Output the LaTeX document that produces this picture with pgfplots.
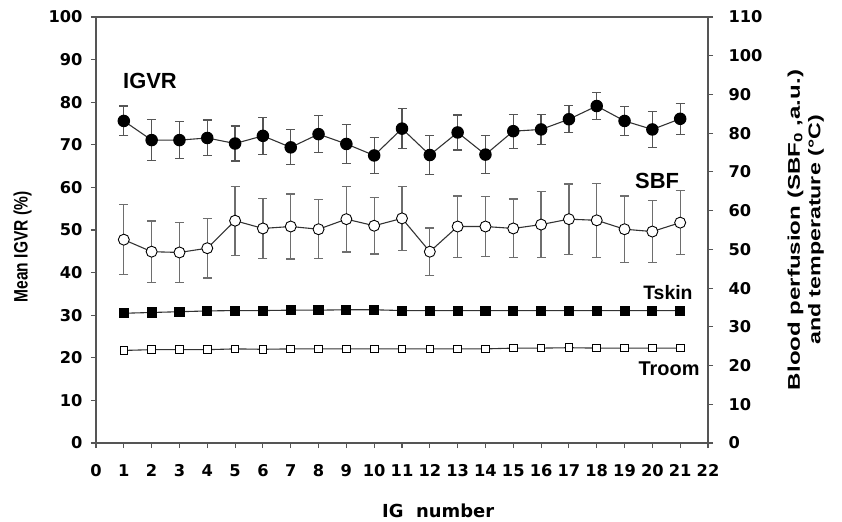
\documentclass[border=0pt]{standalone}
\usepackage{fontspec}
\setmainfont{Liberation Sans}
\newfontfamily\tickfont{DejaVu Sans}
\usepackage{graphicx}
\usepackage{pgfplots}
\pgfplotsset{compat=1.18}
\usepackage{pgfplotstable}

\definecolor{ln}{HTML}{333333}
\definecolor{ax}{HTML}{555555}
\definecolor{eb}{HTML}{555555}

% IG, mean IGVR (%), SD
\pgfplotstableread{
ig  v    e
1   75.6 3.5
2   71.1 4.85
3   71.1 4.35
4   71.6 4.2
5   70.3 4.1
6   72.1 4.3
7   69.4 4.1
8   72.5 4.4
9   70.2 4.5
10  67.5 4.2
11  73.8 4.65
12  67.6 4.6
13  72.9 4.1
14  67.7 4.5
15  73.2 4.0
16  73.6 3.6
17  76.0 3.2
18  79.1 3.25
19  75.6 3.35
20  73.6 4.15
21  76.1 3.6
}\igvr

% IG, SBF0 (a.u.), SD
\pgfplotstableread{
ig  v    e
1   52.5 9.0
2   49.4 7.9
3   49.2 7.8
4   50.3 7.7
5   57.4 8.9
6   55.4 7.8
7   55.9 8.4
8   55.2 7.6
9   57.8 8.5
10  56.1 7.3
11  58.0 8.3
12  49.4 6.1
13  55.9 7.9
14  55.9 7.8
15  55.4 7.6
16  56.4 8.5
17  57.8 9.1
18  57.5 9.5
19  55.2 8.6
20  54.6 8.0
21  56.9 8.3
}\sbf

% IG, Tskin, Troom (degC)
\pgfplotstableread{
ig  ts   tr
1   33.5 23.9
2   33.7 24.1
3   33.9 24.1
4   34.1 24.1
5   34.2 24.3
6   34.2 24.2
7   34.3 24.3
8   34.3 24.3
9   34.4 24.3
10  34.4 24.3
11  34.2 24.3
12  34.2 24.3
13  34.2 24.3
14  34.2 24.3
15  34.2 24.5
16  34.2 24.5
17  34.2 24.6
18  34.2 24.5
19  34.2 24.5
20  34.2 24.5
21  34.2 24.5
}\temps

\begin{document}
\begin{tikzpicture}
\pgfplotsset{
  base/.style={
    scale only axis, width=612bp, height=426bp,
    xmin=0, xmax=22,
    tick align=outside, major tick length=5bp,
    axis line style={ax, line width=1.3pt},
    every tick/.style={ax, line width=1.1pt},
    ticklabel style={font=\tickfont\bfseries\fontsize{16.3}{16.3}\selectfont, text=black},
    /pgf/number format/assume math mode=true,
    clip=false,
  },
}
\begin{axis}[base, name=main,
  ymin=0, ymax=100,
  xtick={0,...,22}, ytick={0,10,...,100},
  xtick pos=bottom, ytick pos=left,
  xticklabel style={yshift=-13bp},
  yticklabel style={xshift=-5bp},
]
\addplot[ln, line width=1.1pt, mark=*, mark size=5.7bp,
  mark options={fill=black, draw=black},
  error bars/.cd, y dir=both, y explicit,
  error bar style={eb, line width=1.2pt},
  error mark options={rotate=90, mark size=4.5bp, eb, line width=1.2pt}]
  table[x=ig, y=v, y error=e] {\igvr};

\node[font=\bfseries\fontsize{22}{22}\selectfont] at (axis cs:1.94,85.0) {IGVR};
\node[font=\bfseries\fontsize{22}{22}\selectfont] at (axis cs:20.17,61.5) {SBF};
\node[font=\bfseries\fontsize{19.5}{19.5}\selectfont] at (axis cs:20.56,35.4) {Tskin};
\node[font=\bfseries\fontsize{20}{20}\selectfont] at (axis cs:20.6,17.4) {Troom};
\node[font=\tickfont\bfseries\fontsize{18}{18}\selectfont] at ([yshift=-68bp]axis cs:12.3,0) {IG~~number};
\node[rotate=90, font=\bfseries\fontsize{19.5}{19.5}\selectfont] at ([xshift=-73.5bp]axis description cs:0,0.46) {\scalebox{0.8}[1]{Mean IGVR (\%)}};
\node[rotate=90, font=\bfseries\fontsize{17}{17}\selectfont] at ([xshift=87.5bp]axis description cs:1,0.5) {\scalebox{1.42}[1]{Blood perfusion (SBF\textsubscript{0} ,a.u.)}};
\node[rotate=90, font=\bfseries\fontsize{17}{17}\selectfont] at ([xshift=108bp]axis description cs:1,0.5) {\scalebox{1.37}[1]{and temperature (°C)}};
\end{axis}

\begin{axis}[base,
  ymin=0, ymax=110, ytick={0,10,...,110},
  axis x line=none, axis y line*=right,
  yticklabel style={xshift=12bp},
]
\addplot[ln, line width=1.1pt, mark=*, mark size=5.5bp,
  mark options={fill=white, draw=black, line width=0.9pt},
  error bars/.cd, y dir=both, y explicit,
  error bar style={eb!85, line width=1.2pt},
  error mark options={rotate=90, mark size=4.5bp, eb!85, line width=1.2pt}]
  table[x=ig, y=v, y error=e] {\sbf};
\addplot[ln, line width=1.1pt, mark=square*, mark size=4.5bp,
  mark options={fill=black, draw=black}]
  table[x=ig, y=ts] {\temps};
\addplot[ln, line width=1.1pt, mark=square*, mark size=3.8bp,
  mark options={fill=white, draw=black, line width=0.9pt}]
  table[x=ig, y=tr] {\temps};
\end{axis}

\pgfresetboundingbox
\path[use as bounding box] ([xshift=-96bp,yshift=-79bp]main.south west) rectangle ++(842bp,522bp);
\end{tikzpicture}
\end{document}
